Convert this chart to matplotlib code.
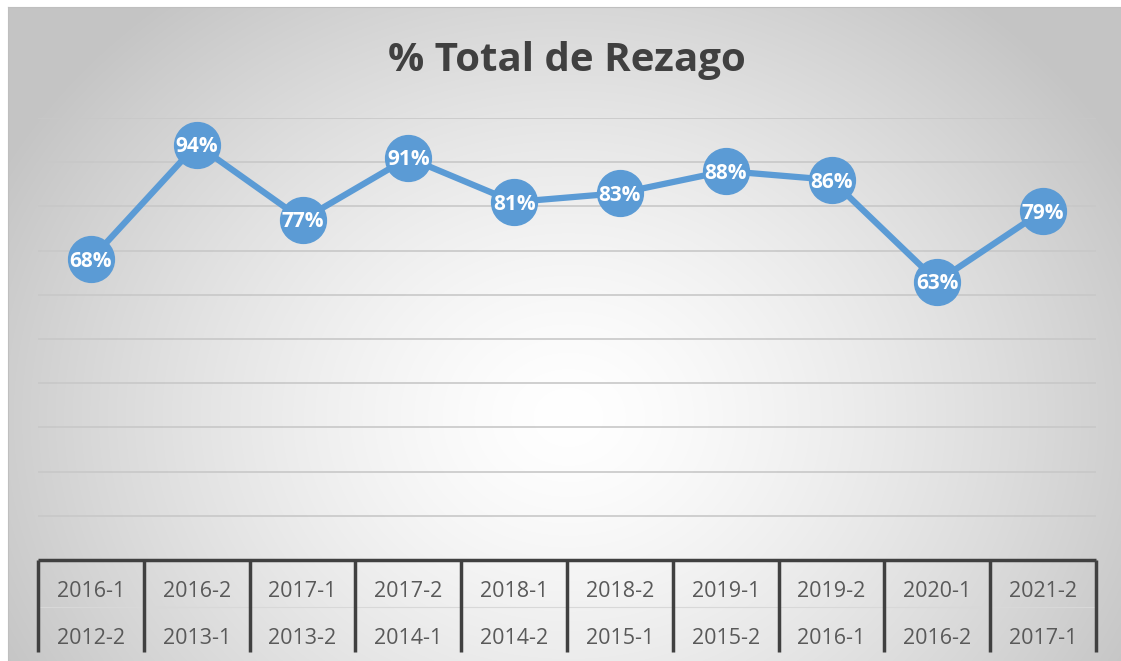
import matplotlib.pyplot as plt
import numpy as np

# data
top_labels = ['2016-1', '2016-2', '2017-1', '2017-2', '2018-1', '2018-2',
              '2019-1', '2019-2', '2020-1', '2021-2']
bottom_labels = ['2012-2', '2013-1', '2013-2', '2014-1', '2014-2', '2015-1',
                 '2015-2', '2016-1', '2016-2', '2017-1']
rezago = [68, 94, 77, 91, 81, 83, 88, 86, 63, 79]

W, H = 1121, 661
fig = plt.figure(figsize=(W / 100, H / 100), dpi=100)
fig.patch.set_facecolor('white')

# radial gradient background of the chart area
bg = fig.add_axes([8 / W, 0, (W - 8) / W, (H - 7) / H])
yy, xx = np.mgrid[0:H - 7, 0:W - 8]
cx, cy = 560, 410
d = np.sqrt(((xx - cx) / 640.0) ** 2 + ((yy - cy) / 540.0) ** 2)
d = np.clip(d, 0, 1)
g = 1.0 - 0.23 * d ** 1.4
bg.imshow(np.dstack([g, g, g]), aspect='auto', origin='upper', interpolation='bilinear')
bg.set_xticks([])
bg.set_yticks([])
for s in bg.spines.values():
    s.set_visible(False)
bg.spines['top'].set_visible(True)
bg.spines['left'].set_visible(True)
bg.spines['top'].set_color('#bfbfbf')
bg.spines['left'].set_color('#bfbfbf')

ax = fig.add_axes([38 / W, (H - 560) / H, (1096 - 38) / W, (560 - 118) / H])
ax.patch.set_alpha(0)
x = np.arange(len(rezago))
ax.set_xlim(-0.5, len(rezago) - 0.5)
ax.set_ylim(0, 100)

for v in range(10, 101, 10):
    ax.axhline(v, color='#c8c8c8', lw=1.2, zorder=1)

ax.plot(x, rezago, color='#5b9bd5', lw=4.5, marker='o', markersize=33,
        markerfacecolor='#5b9bd5', markeredgecolor='#5b9bd5', zorder=3,
        solid_capstyle='round')
for xi, v in zip(x, rezago):
    ax.text(xi, v - 0.5, f'{v}%', ha='center', va='center', color='white',
            fontsize=15, fontweight='bold', family='Open Sans', zorder=4)

# two-level category axis
ax.plot([-0.5, len(rezago) - 0.5], [0, 0], color='#404040', lw=2.5,
        clip_on=False, zorder=2, solid_capstyle='butt')
ax.plot([-0.5, len(rezago) - 0.5], [-10.6, -10.6], color='#d8d8d8', lw=0.8,
        clip_on=False, zorder=2)
for b in np.arange(len(rezago) + 1) - 0.5:
    ax.plot([b, b], [0, -20.8], color='#404040', lw=2.5, clip_on=False,
            zorder=2, solid_capstyle='butt')
for xi, t, bl in zip(x, top_labels, bottom_labels):
    ax.text(xi, -7.2, t, ha='center', va='center', fontsize=15.5,
            color='#595959', family='Open Sans')
    ax.text(xi, -17.8, bl, ha='center', va='center', fontsize=15.5,
            color='#595959', family='Open Sans')

ax.set_xticks([])
ax.set_yticks([])
for s in ax.spines.values():
    s.set_visible(False)

fig.text(567 / W, 1 - 60 / H, '% Total de Rezago', ha='center', va='center',
         fontsize=29, fontweight='bold', color='#404040', family='Open Sans')

fig.savefig('out.png', dpi=100)
